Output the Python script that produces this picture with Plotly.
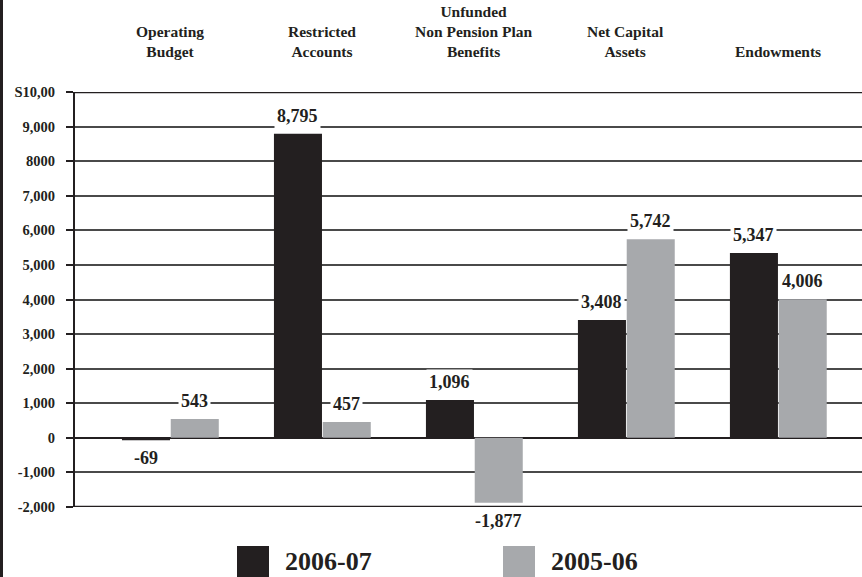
import plotly.graph_objects as go

# Chart data
categories = ["Operating<br>Budget", "Restricted<br>Accounts",
              "Unfunded<br>Non Pension Plan<br>Benefits", "Net Capital<br>Assets",
              "Endowments"]
series_names = ["2006-07", "2005-06"]
values_0607 = [-69, 8795, 1096, 3408, 5347]
values_0506 = [543, 457, -1877, 5742, 4006]
tick_values = [10000, 9000, 8000, 7000, 6000, 5000, 4000, 3000, 2000, 1000, 0, -1000, -2000]
tick_labels = ["S10,00", "9,000", "8000", "7,000", "6,000", "5,000", "4,000",
               "3,000", "2,000", "1,000", "0", "-1,000", "-2,000"]

DARK = "#231f20"
GRAY = "#a7a9ac"
FONT = "Liberation Serif"
BAR_W = 0.316

x_idx = list(range(len(categories)))

fig = go.Figure()
fig.add_trace(go.Bar(x=x_idx, y=values_0607, width=BAR_W, offset=-BAR_W,
                     marker=dict(color=DARK, line=dict(width=0)), name=series_names[0]))
fig.add_trace(go.Bar(x=x_idx, y=values_0506, width=BAR_W, offset=0.005,
                     marker=dict(color=GRAY, line=dict(width=0)), name=series_names[1]))

annotations = []
# value labels with white boxes that interrupt the gridlines
for series, dx in ((values_0607, -BAR_W / 2), (values_0506, BAR_W / 2 + 0.005)):
    for i, v in enumerate(series):
        annotations.append(dict(
            x=i + dx, y=v, xref="x", yref="y",
            text=f"<b>{v:,}</b>", showarrow=False,
            yshift=18 if v >= 0 else -18, yanchor="middle",
            bgcolor="white", borderpad=2,
            font=dict(family=FONT, size=18, color=DARK)))

# category headers across the top
for i, c in enumerate(categories):
    annotations.append(dict(
        x=i, y=1.0, xref="x", yref="paper", yshift=30,
        text=f"<b>{c}</b>", showarrow=False, yanchor="bottom",
        font=dict(family=FONT, size=15.5, color=DARK)))

# legend drawn as swatches + labels below the plot
legend_items = [(series_names[0], DARK, 237), (series_names[1], GRAY, 503)]
shapes = []
for name, col, px in legend_items:
    x0 = (px - 75) / 787
    shapes.append(dict(type="rect", xref="paper", yref="paper",
                       x0=x0, x1=x0 + 32 / 787,
                       y0=(507 - 577) / 415, y1=(507 - 546) / 415,
                       fillcolor=col, line=dict(width=0)))
    annotations.append(dict(
        x=x0 + 46 / 787, y=(507 - 561) / 415, xref="paper", yref="paper",
        text=f"<b>{name}</b>", showarrow=False, xanchor="left", yanchor="middle",
        font=dict(family=FONT, size=26, color=DARK)))

# heavy frame lines at top and bottom of the value range
for yv in (tick_values[0], tick_values[-1]):
    shapes.append(dict(type="line", xref="paper", yref="y", x0=0, x1=1,
                       y0=yv, y1=yv, line=dict(color=DARK, width=2.5)))
# dark strip along the left edge of the page
shapes.append(dict(type="rect", xref="paper", yref="paper",
                   x0=-75 / 787, x1=-72 / 787, y0=-70 / 415, y1=1 + 92 / 415,
                   fillcolor=DARK, line=dict(width=0)))

fig.update_layout(
    width=862, height=577,
    margin=dict(l=75, r=0, t=92, b=70),
    paper_bgcolor="white", plot_bgcolor="white",
    showlegend=False,
    barmode="overlay",
    annotations=annotations,
    shapes=shapes,
    xaxis=dict(range=[-0.625, 4.553], showticklabels=False, showgrid=False,
               zeroline=False, fixedrange=True),
    yaxis=dict(range=[-2000, 10000], tickvals=tick_values, ticktext=tick_labels,
               showgrid=True, gridcolor="#4a4a4a", gridwidth=1.5,
               zeroline=True, zerolinecolor=DARK, zerolinewidth=2,
               showline=True, linecolor=DARK, linewidth=2,
               ticks="outside", ticklen=7, tickcolor=DARK, tickwidth=2,
               ticklabelstandoff=8,
               tickfont=dict(family=FONT, size=14.5, color=DARK, weight="bold")),
    font=dict(family=FONT),
)

fig.write_html("out.html")
